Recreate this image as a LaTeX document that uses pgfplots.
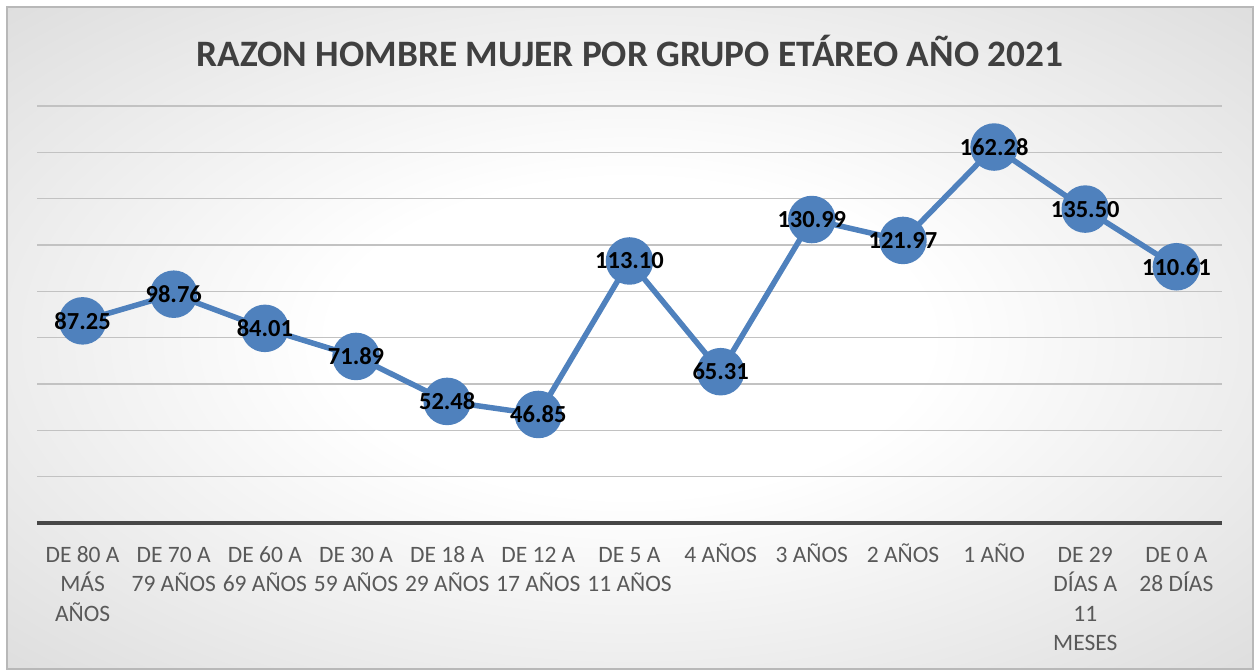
\documentclass[border=0pt]{standalone}
\usepackage{fontspec}
\setmainfont{Carlito}
\usepackage{pgfplots}
\pgfplotsset{compat=1.18}
\definecolor{serie}{HTML}{4F81BD}
\definecolor{texto}{HTML}{595959}
\definecolor{titulo}{HTML}{404040}
\pgfdeclareradialshading{fondo}{\pgfpoint{0bp}{0bp}}{%
  color(0bp)=(white); color(12bp)=(white); color(50bp)=(black!21); color(72bp)=(black!30)}
\newcommand\st{\rule{0pt}{20bp}}

\begin{document}
\begin{tikzpicture}[x=1bp,y=1bp]
\fill[white] (0,0) rectangle (1258,670);
\shade[shading=fondo, draw=black!28, line width=1.2bp] (7,1) rectangle (1253,663);
\node[font=\fontsize{37.3bp}{40bp}\selectfont\bfseries, text=titulo] at (630,619)
  {RAZON HOMBRE MUJER POR GRUPO ETÁREO AÑO 2021};
\begin{axis}[
  at={(37bp,147bp)}, anchor=south west,
  scale only axis, width=1185bp, height=417bp,
  xmin=-0.5, xmax=12.5, ymin=0, ymax=180,
  clip=false,
  axis line style={draw=none},
  major tick length=0pt,
  ytick={20,40,...,180}, yticklabels={},
  ymajorgrids,
  major grid style={color=black!24, line width=1.2bp},
  extra y ticks={0}, extra y tick labels={},
  extra y tick style={grid=major, major grid style={color=black!72, line width=3.2bp}},
  xtick={0,...,12},
  xticklabels={
    {\st DE 80 A\\MÁS\\AÑOS}, {\st DE 70 A\\79 AÑOS}, {\st DE 60 A\\69 AÑOS},
    {\st DE 30 A\\59 AÑOS}, {\st DE 18 A\\29 AÑOS}, {\st DE 12 A\\17 AÑOS},
    {\st DE 5 A\\11 AÑOS}, {\st 4 AÑOS}, {\st 3 AÑOS}, {\st 2 AÑOS}, {\st 1 AÑO},
    {\st DE 29\\DÍAS A\\11\\MESES}, {\st DE 0 A\\28 DÍAS}},
  xticklabel style={font=\fontsize{23.5bp}{29.3bp}\selectfont, text=texto, align=center,
    anchor=north, yshift=-16bp},
  nodes near coords,
  /pgf/number format/.cd, fixed, fixed zerofill, precision=2, assume math mode=true,
  /pgfplots/.cd,
  every node near coord/.append style={font=\fontsize{24.5bp}{26bp}\selectfont\bfseries,
    text=black, anchor=center},
]
  \addplot[serie, line width=5.5bp, mark=*, mark size=21bp,
    mark options={fill=serie, draw=none}] coordinates {
    (0,87.25) (1,98.76) (2,84.01) (3,71.89) (4,52.48) (5,46.85) (6,113.10)
    (7,65.31) (8,130.99) (9,121.97) (10,162.28) (11,135.50) (12,110.61)
  };
\end{axis}
\end{tikzpicture}
\end{document}
